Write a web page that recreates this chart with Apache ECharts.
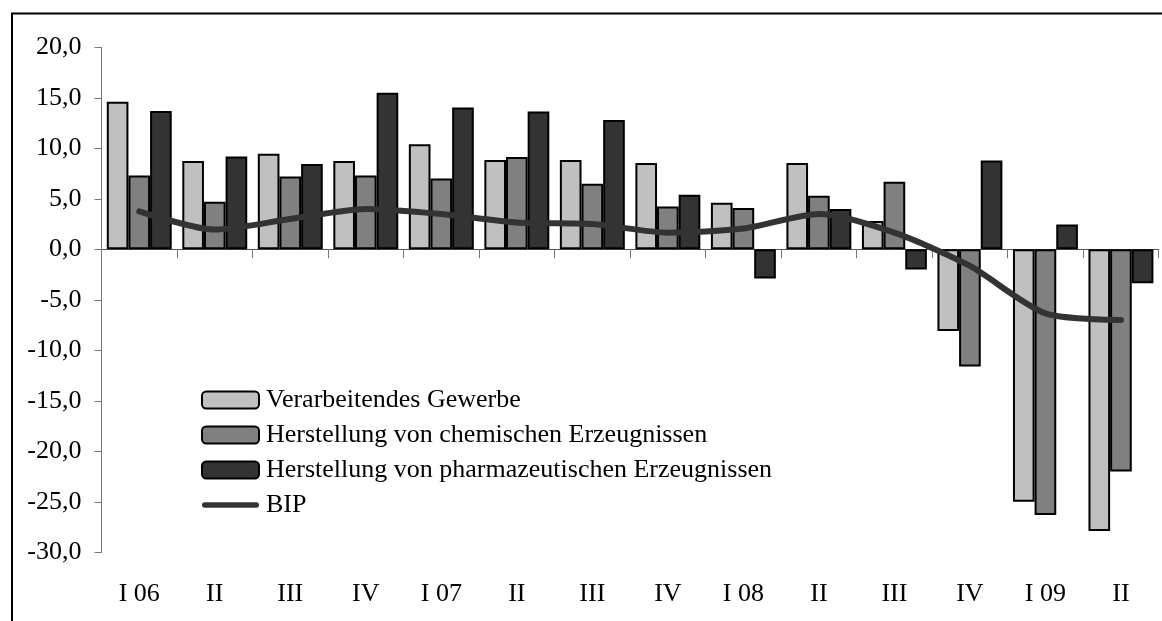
<!DOCTYPE html>
<html><head><meta charset="utf-8">
<script src="https://cdn.jsdelivr.net/npm/echarts@6/dist/echarts.min.js"></script>
<style>html,body{margin:0;padding:0;background:#fff}#c{width:1162px;height:621px}</style>
</head><body><div id="c"></div>
<script>
var categories = ["I 06","II","III","IV","I 07","II","III","IV","I 08","II","III","IV","I 09","II"];
var verarbeitendes = [14.6, 8.75, 9.45, 8.75, 10.4, 8.85, 8.85, 8.55, 4.6, 8.55, 2.8, -8.1, -25.0, -27.9];
var chemisch = [7.3, 4.7, 7.2, 7.3, 7.0, 9.15, 6.5, 4.25, 4.1, 5.3, 6.7, -11.6, -26.3, -22.0];
var pharma = [13.7, 9.2, 8.45, 15.5, 14.05, 13.65, 12.8, 5.4, -2.9, 4.0, -2.0, 8.8, 2.45, -3.35];
var bip = [3.75, 1.95, 3.0, 4.0, 3.5, 2.65, 2.5, 1.65, 2.05, 3.5, 1.65, -1.65, -6.35, -7.0];
var seriesNames = ["Verarbeitendes Gewerbe","Herstellung von chemischen Erzeugnissen","Herstellung von pharmazeutischen Erzeugnissen","BIP"];

var FONT = "Liberation Serif";
var chart = echarts.init(document.getElementById('c'));
function barSeries(name, data, color) {
  return {
    name: name, type: 'bar', data: data, xAxisIndex: 0, yAxisIndex: 0,
    barGap: '0%', barCategoryGap: '14%',
    itemStyle: { color: color, borderColor: '#000', borderWidth: 2 },
    emphasis: { disabled: true }
  };
}
chart.setOption({
  animation: false,
  textStyle: { fontFamily: FONT, color: '#000' },
  graphic: [{
    type: 'rect', shape: { x: 12, y: 13.5, width: 1200, height: 700 },
    style: { fill: 'none', stroke: '#000', lineWidth: 2 }, z: 100, silent: true
  }],
  grid: { left: 101.5, right: 3.3, top: 47.3, bottom: 68.7, containLabel: false },
  legend: {
    orient: 'vertical', left: 196, top: 382, itemWidth: 57, itemHeight: 17, itemGap: 9,
    data: [
      seriesNames[0], seriesNames[1], seriesNames[2],
      { name: seriesNames[3],
        icon: 'path://M3,0 L60,0 A3,3 0 0 1 60,6 L3,6 A3,3 0 0 1 3,0 Z',
        itemStyle: { color: '#333333', borderWidth: 0 } }
    ],
    textStyle: { fontFamily: FONT, fontSize: 26, color: '#000', padding: [0, 0, 0, 2] },
    selectedMode: false
  },
  xAxis: [{
    type: 'category', data: categories, position: 'bottom',
    axisLine: { show: false, onZero: false }, axisTick: { show: false },
    axisLabel: { fontFamily: FONT, fontSize: 26, color: '#000', margin: 29, interval: 0 },
    splitLine: { show: false }
  }, {
    type: 'category', data: categories, position: 'bottom',
    axisLine: { show: true, onZero: true, lineStyle: { color: '#555', width: 1 } },
    axisTick: { show: true, length: 9, lineStyle: { color: '#777' } },
    axisLabel: { show: false }, splitLine: { show: false }
  }],
  yAxis: [{
    type: 'value', min: -30, max: 20, interval: 5,
    axisLine: { show: true, lineStyle: { color: '#777', width: 1 } },
    axisTick: { show: true, length: 7, lineStyle: { color: '#777' } },
    splitLine: { show: false },
    axisLabel: { fontFamily: FONT, fontSize: 26, color: '#000', margin: 20,
      formatter: function (v) { return v.toFixed(1).replace('.', ','); } }
  }],
  series: [
    barSeries(seriesNames[0], verarbeitendes, '#c0c0c0'),
    barSeries(seriesNames[1], chemisch, '#808080'),
    barSeries(seriesNames[2], pharma, '#333333'),
    {
      name: seriesNames[3], type: 'line', data: bip, xAxisIndex: 0, yAxisIndex: 0,
      smooth: 0.25, symbol: 'none', z: 5,
      lineStyle: { color: '#333333', width: 6, cap: 'round', join: 'round' },
      itemStyle: { color: '#333333' },
      emphasis: { disabled: true }
    }
  ]
});
</script></body></html>
